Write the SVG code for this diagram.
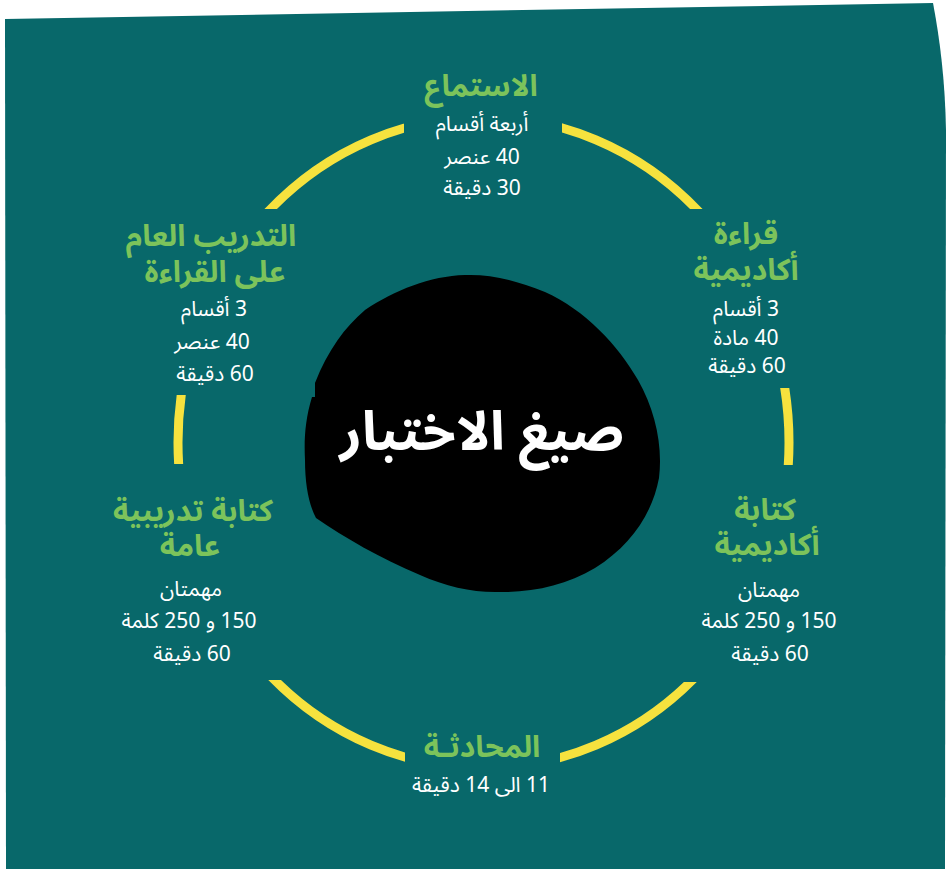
<svg xmlns="http://www.w3.org/2000/svg" width="952" height="869" viewBox="0 0 952 869">
  <defs>
    <style>
      text { direction: rtl; unicode-bidi: embed; }
      .title { font-family: "Noto Sans Arabic", "DejaVu Sans", sans-serif; font-weight: bold; font-size: 30px; fill: #7CC35B; text-anchor: middle; }
      .body { font-family: "Noto Sans Arabic", "DejaVu Sans", sans-serif; font-size: 21px; fill: #FFFFFF; text-anchor: middle; }
      .center { font-family: "Noto Sans Arabic", "DejaVu Sans", sans-serif; font-weight: bold; font-size: 54px; fill: #FFFFFF; text-anchor: middle; }
      .ring { fill: none; stroke: #F6E23E; stroke-width: 9; }
    </style>
    <clipPath id="ringClip">
      <rect x="150" y="90" width="254" height="119"/>
      <rect x="562" y="90" width="260" height="119"/>
      <rect x="150" y="395" width="60" height="69"/>
      <rect x="760" y="388" width="62" height="77"/>
      <rect x="150" y="680" width="255" height="120"/>
      <rect x="560" y="682" width="262" height="118"/>
    </clipPath>
  </defs>
  <rect width="952" height="869" fill="#FFFFFF"/>
  <path d="M5,19 L933,3 C940,40 945,80 946,130 L945,869 L6,869 Z" fill="#08686A"/>

  <g id="connectors">
    <ellipse class="ring" cx="483.5" cy="442.5" rx="305.5" ry="325.5" clip-path="url(#ringClip)"/>
  </g>

  <g id="center-node">
    <path d="M315,383 L315,397 L312,397 C305,420 304,440 305,460 C305,485 309,505 316,518 C345,538 380,558 420,575 C445,586 470,592 495,592 C530,593 565,586 595,568 C630,546 652,515 659,478 C663,445 655,410 638,380 C618,345 585,310 545,292 C515,280 490,274 465,275 C430,276 395,290 365,310 C345,327 328,350 315,383 Z" fill="#000000"/>
    <text class="center" x="482" y="450" direction="rtl">صيغ الاختبار</text>
  </g>

  <g id="node-listening">
    <text class="title" x="481" y="96" direction="rtl">الاستماع</text>
    <text class="body" x="482" y="131" direction="rtl">أربعة أقسام</text>
    <text class="body" x="482" y="164" direction="rtl">40 عنصر</text>
    <text class="body" x="482" y="195" direction="rtl">30 دقيقة</text>
  </g>

  <g id="node-academic-reading">
    <text class="title" x="746" y="244" direction="rtl">قراءة</text>
    <text class="title" x="746" y="280" direction="rtl">أكاديمية</text>
    <text class="body" x="746" y="316" direction="rtl">3 أقسام</text>
    <text class="body" x="746" y="345" direction="rtl">40 مادة</text>
    <text class="body" x="747" y="373" direction="rtl">60 دقيقة</text>
  </g>

  <g id="node-general-reading">
    <text class="title" x="211" y="246" direction="rtl">التدريب العام</text>
    <text class="title" x="215" y="282" direction="rtl">على القراءة</text>
    <text class="body" x="214" y="316" direction="rtl">3 أقسام</text>
    <text class="body" x="212" y="349" direction="rtl">40 عنصر</text>
    <text class="body" x="215" y="381" direction="rtl">60 دقيقة</text>
  </g>

  <g id="node-general-writing">
    <text class="title" x="193" y="521" direction="rtl">كتابة تدريبية</text>
    <text class="title" x="190" y="556" direction="rtl">عامة</text>
    <text class="body" x="191" y="596" direction="rtl">مهمتان</text>
    <text class="body" x="189" y="628" direction="rtl">150 و 250 كلمة</text>
    <text class="body" x="192" y="661" direction="rtl">60 دقيقة</text>
  </g>

  <g id="node-academic-writing">
    <text class="title" x="765" y="520" direction="rtl">كتابة</text>
    <text class="title" x="767" y="555" direction="rtl">أكاديمية</text>
    <text class="body" x="769" y="597" direction="rtl">مهمتان</text>
    <text class="body" x="769" y="628" direction="rtl">150 و 250 كلمة</text>
    <text class="body" x="770" y="661" direction="rtl">60 دقيقة</text>
  </g>

  <g id="node-speaking">
    <text class="title" x="482" y="757" direction="rtl">المحادثـة</text>
    <text class="body" x="481" y="792" direction="rtl">11 الى 14 دقيقة</text>
  </g>
</svg>
